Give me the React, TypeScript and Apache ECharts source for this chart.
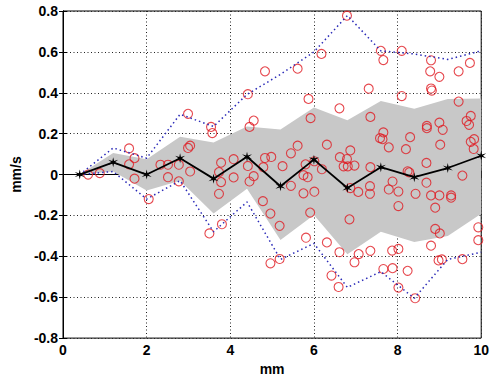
import React, { useEffect, useRef } from "react";
import * as echarts from "echarts";

const binX = [0.4, 1.2, 2.0, 2.8, 3.6, 4.4, 5.2, 6.0, 6.8, 7.6, 8.4, 9.2, 10.0];
const meanV = [0, 0.06, 0, 0.08, -0.02, 0.087, -0.057, 0.073, -0.066, 0.036, -0.013, 0.032, 0.092];
const bandHigh = [0, 0.105, 0.075, 0.185, 0.157, 0.235, 0.22, 0.328, 0.265, 0.36, 0.322, 0.37, 0.372];
const bandLow = [0, 0.015, -0.078, -0.03, -0.19, -0.07, -0.32, -0.198, -0.39, -0.28, -0.33, -0.3, -0.192];
const maxV = [0, 0.13, 0.08, 0.295, 0.235, 0.392, 0.49, 0.6, 0.778, 0.605, 0.59, 0.563, 0.605];
const minV = [0, 0.015, -0.12, -0.03, -0.28, -0.134, -0.415, -0.337, -0.552, -0.475, -0.605, -0.415, -0.38];

const pointsX = [
  0.6, 0.88, 1.58, 1.58, 1.71, 1.71, 2.05, 2.33, 2.51, 2.51, 2.77, 2.77, 2.99, 2.99, 3.04, 3.04,
  3.5, 3.54, 3.57, 3.73, 3.73, 3.78, 3.78, 3.8, 4.08, 4.08, 4.42, 4.42, 4.46, 4.46, 4.56, 4.56,
  4.78, 4.83, 4.83, 4.79, 4.98, 4.96, 4.96, 5.18, 5.18, 5.25, 5.45, 5.45, 5.61, 5.61, 5.75, 5.75,
  5.8, 5.81, 5.85, 5.87, 5.92, 5.91, 6.01, 6.01, 6.18, 6.19, 6.31, 6.31,
  6.42, 6.61, 6.62, 6.61, 6.59, 6.71, 6.79, 6.79, 6.81, 6.85, 6.87, 6.87, 6.97, 6.97, 7.06, 7.07,
  7.31, 7.35, 7.35, 7.34, 7.34, 7.35,
  7.6, 7.66, 7.66, 7.58, 7.64, 7.79, 7.79, 7.88, 7.87, 7.66, 7.88, 8.02, 8.02, 8.02, 8.02,
  8.1, 8.1, 8.2, 8.24, 8.28, 8.3, 8.24, 8.43, 8.42,
  8.69, 8.69, 8.7, 8.7, 8.8, 8.78, 8.8, 8.82, 8.8, 8.8, 8.9, 8.9, 9.0, 9.0, 9.02, 9.08, 9.0, 9.01,
  8.98, 9.06, 9.28, 9.28, 9.46, 9.46, 9.55, 9.55, 9.65, 9.73, 9.71, 9.75, 9.75, 9.83, 9.82, 9.93, 9.93,
];
const pointsY = [
  0.0, 0.007, 0.128, 0.05, 0.08, -0.02, -0.12, 0.048, 0.048, -0.013, 0.048, -0.033, 0.297, 0.13, 0.141, 0.015,
  -0.288, 0.233, 0.203, 0.012, -0.094, 0.058, -0.037, -0.243, 0.075, -0.014, 0.393, 0.042, 0.233, -0.034, 0.264, -0.008,
  -0.13, 0.505, 0.081, 0.036, 0.086, -0.191, -0.434, -0.251, -0.413, 0.041, 0.104, -0.055, 0.518, 0.141, -0.003, -0.092,
  0.05, -0.309, -0.013, 0.37, 0.276, -0.186, 0.065, -0.084, 0.59, 0.026, 0.146, -0.332,
  -0.494, 0.324, 0.085, -0.38, -0.55, 0.04, 0.777, 0.076, 0.04, -0.219, 0.118, -0.066, 0.044, -0.429, -0.085, -0.389,
  0.42, 0.282, 0.036, -0.057, -0.094, -0.373,
  0.605, 0.56, 0.206, 0.178, 0.173, 0.133, -0.073, -0.034, -0.372, -0.462, -0.458, -0.083, -0.154, -0.364, -0.553,
  0.605, 0.384, 0.124, 0.016, 0.011, 0.183, -0.471, -0.094, -0.605,
  0.057, -0.04, 0.238, 0.227, 0.559, 0.505, 0.421, 0.411, -0.102, -0.348, -0.162, -0.266, 0.478, 0.254, 0.146, 0.219, -0.102, -0.288,
  -0.42, -0.415, -0.102, -0.113, 0.505, 0.357, -0.005, -0.414, 0.262, 0.546, 0.243, 0.287, 0.16, 0.173, 0.125, -0.258, -0.321,
];

const xLabel = "mm";
const yLabel = "mm/s";

const starPath =
  "path://M0,-1 L0.15,-0.26 L0.866,-0.5 L0.3,0 L0.866,0.5 L0.15,0.26 L0,1 L-0.15,0.26 L-0.866,0.5 L-0.3,0 L-0.866,-0.5 L-0.15,-0.26 Z";

export default function App() {
  const ref = useRef<HTMLDivElement>(null);
  useEffect(() => {
    if (!ref.current) return;
    const chart = echarts.init(ref.current, null, { renderer: "svg" });
    const font = "'Liberation Sans', Arial, sans-serif";
    const labelStyle = { color: "#000", fontSize: 14, fontWeight: "bold" as const, fontFamily: font };
    const splitLine = { show: true, lineStyle: { color: "#222", type: [1, 2.5] as number[], width: 1 } };
    const bandData = binX.map((x, i) => [x, bandLow[i], bandHigh[i]]);
    chart.setOption({
      animation: false,
      backgroundColor: "#fff",
      grid: { left: 63, right: 10, top: 11, bottom: 41, show: true, borderColor: "#000", borderWidth: 1, backgroundColor: "#fff" },
      xAxis: [
        {
          type: "value", min: 0, max: 10, interval: 2,
          name: xLabel, nameLocation: "middle", nameGap: 22, nameTextStyle: labelStyle,
          axisLine: { show: true, lineStyle: { color: "#000" } },
          axisTick: { show: true, inside: true, length: 4, lineStyle: { color: "#000" } },
          axisLabel: { ...labelStyle, margin: 5 },
          splitLine,
        },
        {
          type: "value", min: 0, max: 10, interval: 2, position: "top",
          axisLine: { show: true, lineStyle: { color: "#000" } },
          axisTick: { show: true, inside: true, length: 4, lineStyle: { color: "#000" } },
          axisLabel: { show: false }, splitLine: { show: false },
        },
      ],
      yAxis: [
        {
          type: "value", min: -0.8, max: 0.8, interval: 0.2,
          name: yLabel, nameLocation: "middle", nameGap: 37, nameTextStyle: labelStyle,
          axisLine: { show: true, lineStyle: { color: "#000" } },
          axisTick: { show: true, inside: true, length: 4, lineStyle: { color: "#000" } },
          axisLabel: { ...labelStyle, margin: 5 },
          splitLine,
        },
        {
          type: "value", min: -0.8, max: 0.8, interval: 0.2, position: "right",
          axisLine: { show: true, lineStyle: { color: "#000" } },
          axisTick: { show: true, inside: true, length: 4, lineStyle: { color: "#000" } },
          axisLabel: { show: false }, splitLine: { show: false },
        },
      ],
      series: [
        {
          type: "custom",
          z: 1,
          silent: true,
          data: bandData,
          encode: { x: 0, y: [1, 2] },
          renderItem: (params: any, api: any) => {
            if (params.dataIndex !== 0) return { type: "group", children: [] };
            const top = binX.map((x, i) => api.coord([x, bandHigh[i]]));
            const bot = binX.map((x, i) => api.coord([x, bandLow[i]])).reverse();
            return {
              type: "polygon",
              shape: { points: top.concat(bot) },
              style: { fill: "#c8c8c8", stroke: "none" },
            };
          },
        },
        {
          type: "scatter",
          z: 3,
          symbol: "circle",
          symbolSize: 9,
          data: pointsX.map((x, i) => [x, pointsY[i]]),
          itemStyle: { color: "rgba(0,0,0,0)", borderColor: "#e01a22", borderWidth: 1.1 },
        },
        {
          type: "line",
          z: 4,
          data: binX.map((x, i) => [x, maxV[i]]),
          showSymbol: false,
          lineStyle: { color: "#2a2ab8", width: 1.5, type: [1.5, 3] },
        },
        {
          type: "line",
          z: 4,
          data: binX.map((x, i) => [x, minV[i]]),
          showSymbol: false,
          lineStyle: { color: "#2a2ab8", width: 1.5, type: [1.5, 3] },
        },
        {
          type: "line",
          z: 5,
          data: binX.map((x, i) => [x, meanV[i]]),
          symbol: starPath,
          symbolSize: 10,
          itemStyle: { color: "#000" },
          lineStyle: { color: "#000", width: 1.8 },
        },
      ],
    });
    return () => chart.dispose();
  }, []);
  return <div ref={ref} style={{ position: "fixed", left: 0, top: 0, width: 492, height: 381 }} />;
}
